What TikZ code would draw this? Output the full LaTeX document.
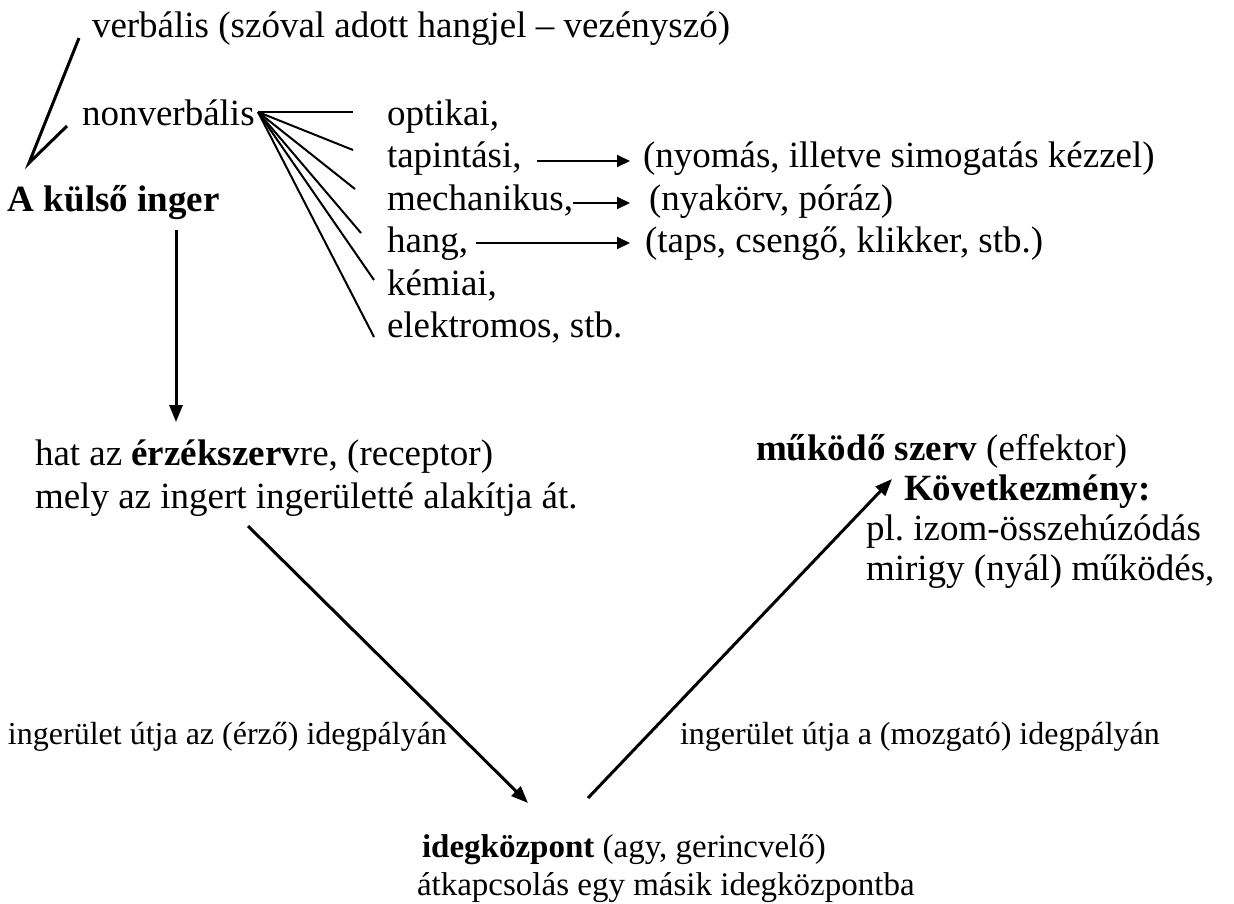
\documentclass[tikz,border=0pt]{standalone}
\usepackage{fontspec}
\setmainfont{Liberation Serif}
\usetikzlibrary{arrows.meta}
\frenchspacing
\begin{document}
\frenchspacing
\begin{tikzpicture}[x=1pt,y=-1pt,
  txt/.style={inner sep=0pt,outer sep=0pt,anchor=base west,font=\fontsize{37}{42}\selectfont},
  smalltxt/.style={txt,font=\fontsize{32}{37}\selectfont},
  bottxt/.style={txt,font=\fontsize{33}{38}\selectfont},
  fanline/.style={line width=2pt},
  thickline/.style={line width=3pt},
  listarrow/.style={line width=2pt,-{Triangle[length=13pt,width=12pt]}},
  mainarrow/.style={line width=3pt,-{Triangle[length=17pt,width=13pt]}},
]
\useasboundingbox[fill=white] (0,0) rectangle (1234,903);

% texts
\node[txt] (verb) at (92,37) {verbális (szóval adott hangjel – vezényszó)};
\node[txt] (nonverb) at (82,125) {nonverbális};
\node[txt] (kulso) at (8,211) {\bfseries A külső inger};

\node[txt] (opt) at (387,125) {optikai,};
\node[txt] (tap) at (387,167.5) {tapintási,};
\node[txt] (mech) at (387,210) {mechanikus,};
\node[txt] (hang) at (387,252.5) {hang,};
\node[txt] (kem) at (387,295) {kémiai,};
\node[txt] (elek) at (387,337) {elektromos, stb.};

\node[txt] (nyom) at (643,167.5) {(nyomás, illetve simogatás kézzel)};
\node[txt] (nyak) at (649,210) {(nyakörv, póráz)};
\node[txt] (taps) at (645,252.5) {(taps, csengő, klikker, stb.)};

\node[txt] (hat) at (35,465) {hat az \textbf{érzékszerv}re, (receptor)};
\node[txt] (mely) at (35,508) {mely az ingert ingerületté alakítja át.};

\node[txt] (mukodo) at (756,460) {\textbf{működő szerv} (effektor)};
\node[txt] (kovet) at (904,500) {\bfseries Következmény:};
\node[txt] (izom) at (866,540) {pl. izom-összehúzódás};
\node[txt] (mirigy) at (866,580) {mirigy (nyál) működés,};

\node[smalltxt] (erzo) at (8,744) {ingerület útja az (érző) idegpályán};
\node[smalltxt] (mozg) at (680,744) {ingerület útja a (mozgató) idegpályán};

\node[bottxt] (ideg) at (422,857) {\textbf{idegközpont} (agy, gerincvelő)};
\node[bottxt] (atkap) at (417,895) {átkapcsolás egy másik idegközpontba};

% coordinates for connector ends
\coordinate (vtop) at (79,38);
\coordinate (vmid) at (67,126);
\coordinate (vbot) at (29,163);
\coordinate (fan) at (258,112);
\coordinate (f1) at (353,112);
\coordinate (f2) at (353,150);
\coordinate (f3) at (355,189);
\coordinate (f4) at (361,233);
\coordinate (f5) at (374,280);
\coordinate (f6) at (374,337);
\coordinate (a1s) at (537,161);
\coordinate (a1e) at (630,161);
\coordinate (a2s) at (573,203);
\coordinate (a2e) at (630,203);
\coordinate (a3s) at (476,243);
\coordinate (a3e) at (630,243);
\coordinate (dns) at (176,230);
\coordinate (dne) at (176,422);
\coordinate (d1s) at (248,526);
\coordinate (d1e) at (528,803);
\coordinate (d2s) at (588,798);
\coordinate (d2e) at (892,479);

% connectors
\draw[thickline] (vtop) -- (vbot) -- (vmid);
\foreach \e in {f1,f2,f3,f4,f5,f6} \draw[fanline] (fan) -- (\e);
\draw[listarrow] (a1s) -- (a1e);
\draw[listarrow] (a2s) -- (a2e);
\draw[listarrow] (a3s) -- (a3e);
\draw[mainarrow] (dns) -- (dne);
\draw[mainarrow] (d1s) -- (d1e);
\draw[mainarrow] (d2s) -- (d2e);
\end{tikzpicture}
\end{document}
